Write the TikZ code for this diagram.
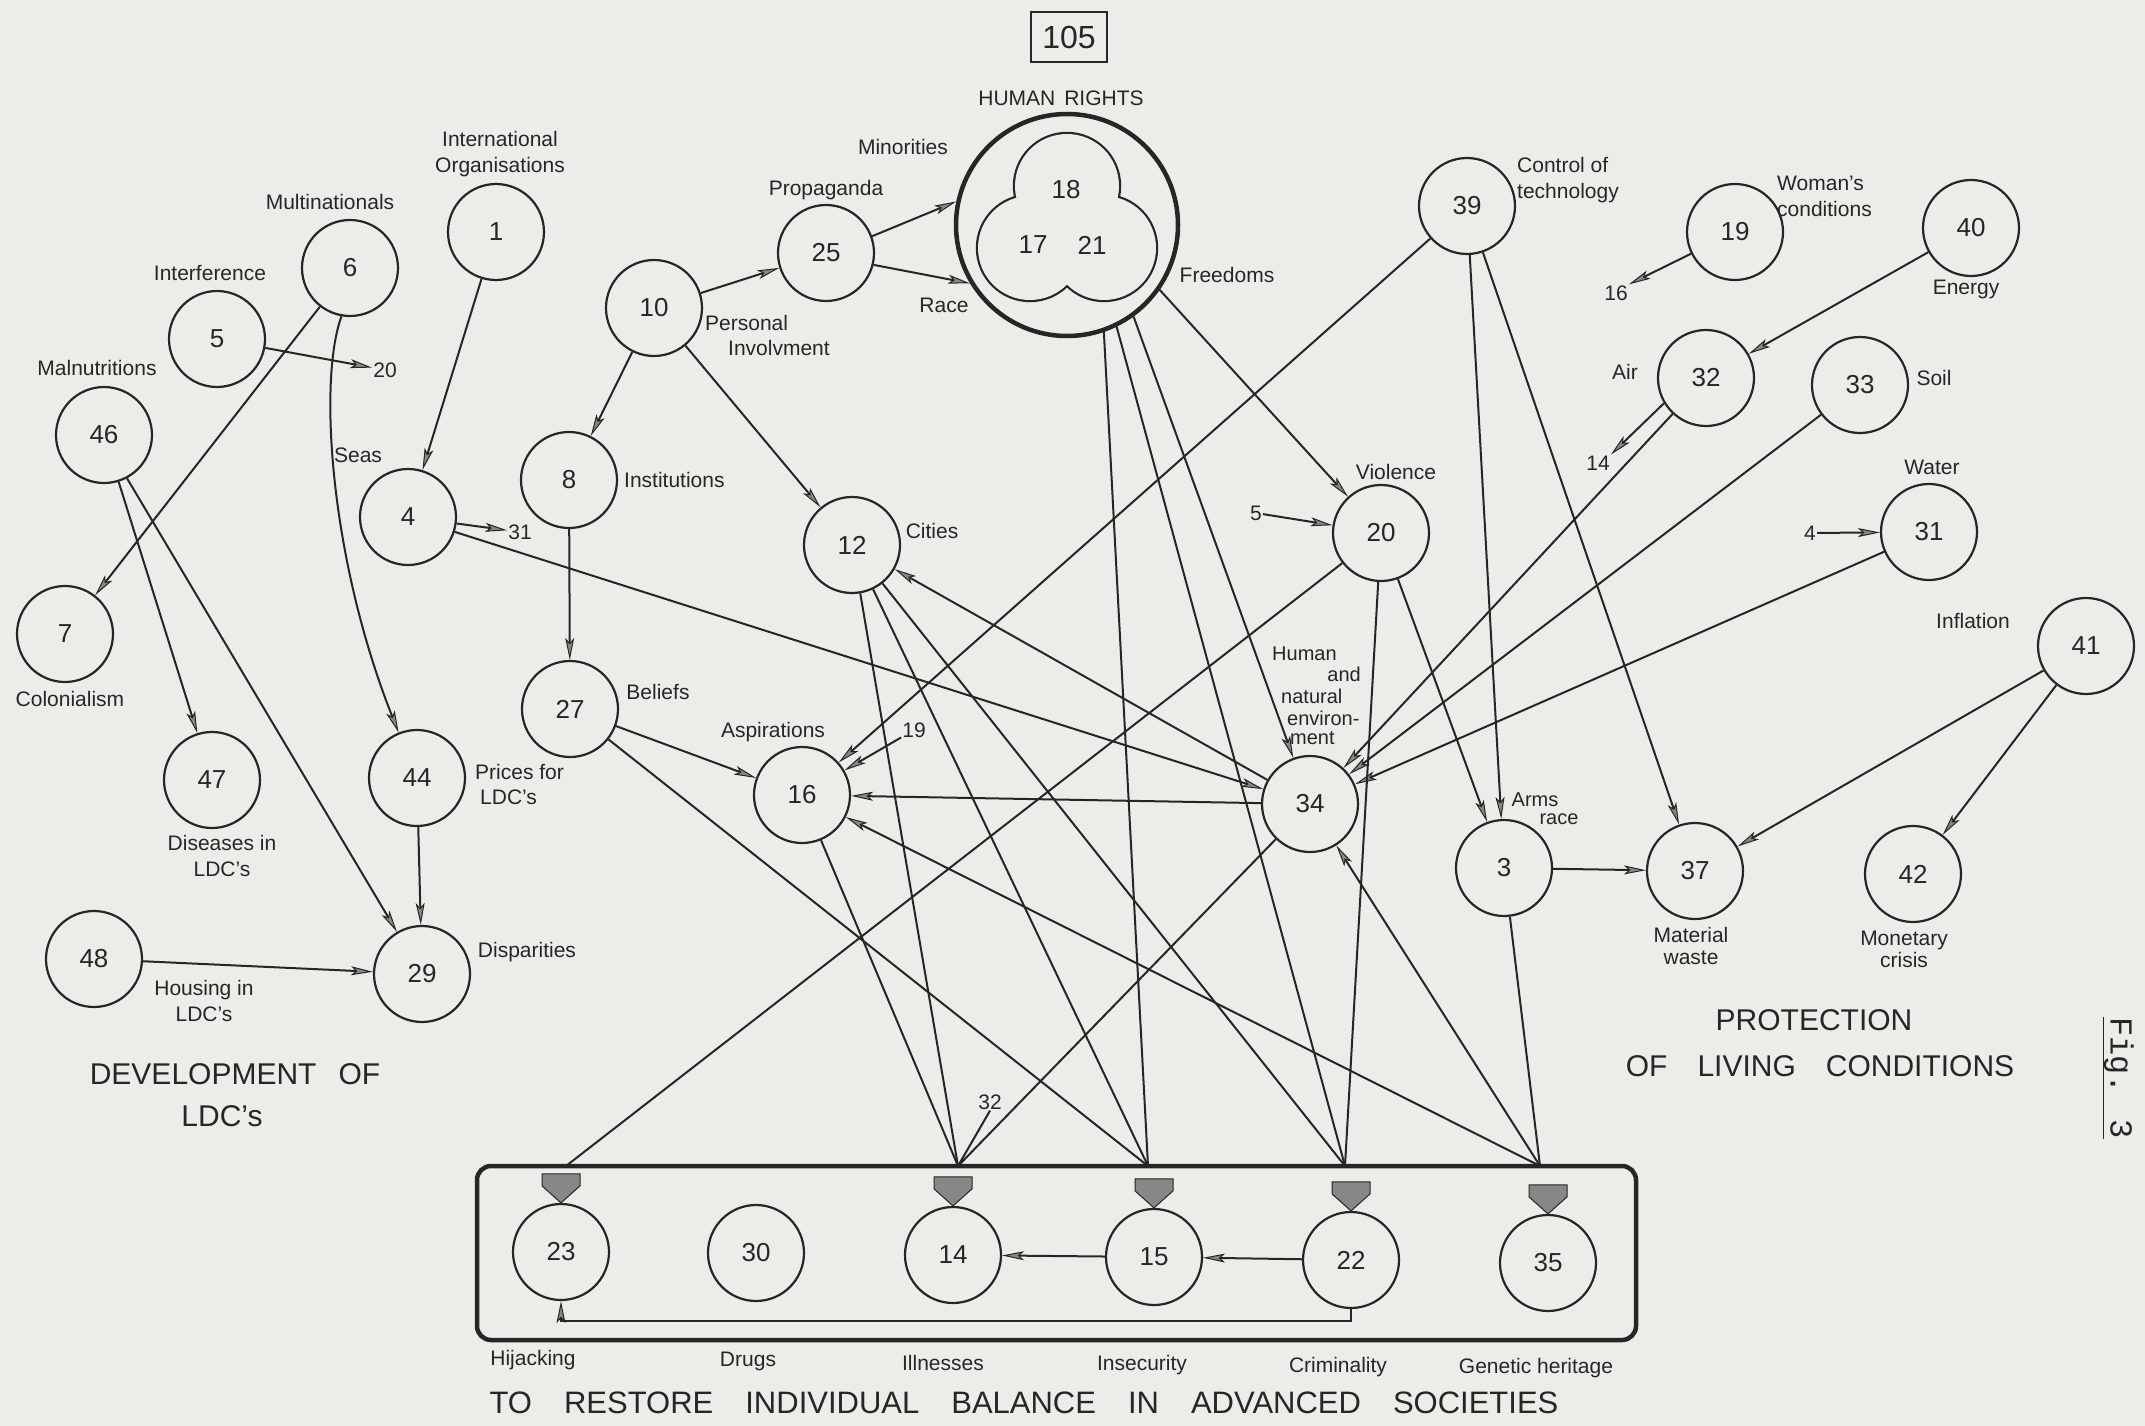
\documentclass[tikz,border=0pt]{standalone}
\usepackage{fontspec}
\setmainfont{Liberation Sans}
\newfontfamily\figfont{Liberation Mono}
\usetikzlibrary{arrows.meta,calc}
\definecolor{bg}{RGB}{236,237,233}
\definecolor{ink}{RGB}{38,38,38}
\definecolor{tipfill}{RGB}{135,135,135}
\newcommand{\wgap}{\hspace{30pt}}
\begin{document}
\begin{tikzpicture}[x=1pt,y=-1pt,
 nd/.style={circle,draw=ink,line width=2.2pt,minimum size=96pt,inner sep=0pt,text=ink,font=\fontsize{26}{26}\selectfont},
 lb/.style={font=\fontsize{21}{26}\selectfont,inner sep=1pt,align=center,text=ink},
 sl/.style={font=\fontsize{20}{21}\selectfont,inner sep=0pt,text=ink},
 ttl/.style={font=\fontsize{30}{44}\selectfont,align=center,text=ink,inner sep=0pt},
 ln/.style={draw=ink,line width=2pt},
 ar/.style={ln,-{Stealth[length=22pt,width=9pt,inset=5pt,fill=tipfill,line width=1pt]}},
 gtip/.style={draw=ink,line width=1pt,fill=tipfill}
]
\fill[bg] (0,0) rectangle (2145,1426);
\useasboundingbox (0,0) rectangle (2145,1426);

% ---------- page number ----------
\node[draw=ink,line width=2.2pt,minimum width=76pt,minimum height=50pt,inner sep=0pt,text=ink,font=\fontsize{32}{32}\selectfont] (pg) at (1069,37) {105};

% ---------- human rights ----------
\node[circle,draw=ink,line width=4.5pt,minimum size=222pt,inner sep=0pt] (hr) at (1067,225) {};
\foreach \p in {(1067,186),(1030,248),(1104,248)} \draw[ink,line width=4.4pt] \p circle[radius=52];
\foreach \p in {(1067,186),(1030,248),(1104,248)} \fill[bg] \p circle[radius=52];
\node[text=ink,font=\fontsize{26}{26}\selectfont] (h18) at (1066,190) {18};
\node[text=ink,font=\fontsize{26}{26}\selectfont] (h17) at (1033,245) {17};
\node[text=ink,font=\fontsize{26}{26}\selectfont] (h21) at (1092,245) {21};

% ---------- nodes ----------
\node[nd] (n1) at (496,232) {1};
\node[nd] (n6) at (350,268) {6};
\node[nd] (n5) at (217,339) {5};
\node[nd] (n46) at (104,435) {46};
\node[nd] (n4) at (408,517) {4};
\node[nd] (n8) at (569,480) {8};
\node[nd] (n10) at (654,308) {10};
\node[nd] (n25) at (826,253) {25};
\node[nd] (n7) at (65,634) {7};
\node[nd] (n47) at (212,780) {47};
\node[nd] (n44) at (417,778) {44};
\node[nd] (n27) at (570,709) {27};
\node[nd] (n29) at (422,974) {29};
\node[nd] (n48) at (94,959) {48};
\node[nd] (n12) at (852,545) {12};
\node[nd] (n16) at (802,795) {16};
\node[nd] (n39) at (1467,206) {39};
\node[nd] (n19) at (1735,232) {19};
\node[nd] (n40) at (1971,228) {40};
\node[nd] (n32) at (1706,378) {32};
\node[nd] (n33) at (1860,385) {33};
\node[nd] (n20) at (1381,533) {20};
\node[nd] (n31) at (1929,532) {31};
\node[nd] (n41) at (2086,646) {41};
\node[nd] (n34) at (1310,804) {34};
\node[nd] (n3) at (1504,868) {3};
\node[nd] (n37) at (1695,871) {37};
\node[nd] (n42) at (1913,874) {42};

% ---------- bottom box ----------
\draw[ink,line width=4.5pt,rounded corners=14pt] (477,1166) rectangle (1636,1340);
\node[nd] (n23) at (561,1252) {23};
\node[nd] (n30) at (756,1253) {30};
\node[nd] (n14) at (953,1255) {14};
\node[nd] (n15) at (1154,1257) {15};
\node[nd] (n22) at (1351,1260) {22};
\node[nd] (n35) at (1548,1263) {35};
\coordinate (p23) at (566,1166);
\coordinate (p14) at (958,1166);
\coordinate (p15) at (1148,1166);
\coordinate (p22) at (1345,1166);
\coordinate (p35) at (1540,1166);
\foreach \n in {n23,n14,n15,n22,n35}
  \draw[gtip] (\n.north) -- ++(-19,-17) -- ++(0,-12) -- ++(38,0) -- ++(0,12) -- cycle;

% ---------- labels ----------
\node[lb] (lIO) at (500,154) {International\\Organisations};
\node[lb] (lMul) at (330,202) {Multinationals};
\node[lb] (lInt) at (210,273) {Interference};
\node[lb] (lMal) at (97,368) {Malnutritions};
\node[lb] (lSeas) at (358,455) {Seas};
\node[lb] (t20) at (385,370) {20};
\node[lb] (t31) at (520,532) {31};
\node[lb,anchor=west] (lInst) at (623,480) {Institutions};
\node[lb] (lProp) at (826,190) {Propaganda};
\node[lb] (lMin) at (903,147) {Minorities};
\node[lb,anchor=west] (lPer) at (704,323) {Personal};
\node[lb,anchor=west] (lInv) at (727,348) {Involvment};
\node[lb] (lRace) at (944,305) {Race};
\node[lb] (lHR) at (1061,98) {HUMAN\hspace{9pt}RIGHTS};
\node[lb] (lFree) at (1227,275) {Freedoms};
\node[lb,anchor=west,align=left] (lCot) at (1516,180) {Control of\\technology};
\node[lb,anchor=west,align=left] (lWom) at (1776,196) {Woman's\\conditions};
\node[lb] (lEn) at (1966,289) {Energy};
\node[lb] (t16) at (1616,293) {16};
\node[lb] (lAir) at (1625,372) {Air};
\node[lb] (lSoil) at (1934,378) {Soil};
\node[lb] (t14) at (1598,463) {14};
\node[lb] (lViol) at (1396,472) {Violence};
\node[lb] (t5) at (1256,513) {5};
\node[lb] (lWat) at (1932,467) {Water};
\node[lb] (t4) at (1810,533) {4};
\node[lb] (lInf) at (1973,621) {Inflation};
\node[lb] (lCit) at (932,531) {Cities};
\node[lb] (lCol) at (70,699) {Colonialism};
\node[lb] (lBel) at (658,692) {Beliefs};
\node[lb] (lAsp) at (773,732) {Aspirations};
\node[lb] (t19) at (914,730) {19};
\node[sl,anchor=west] (lHu1) at (1272,654) {Human};
\node[sl,anchor=east] (lHu2) at (1361,674) {and};
\node[sl,anchor=west] (lHu3) at (1281,696) {natural};
\node[sl,anchor=west] (lHu4) at (1287,718) {environ-};
\node[sl,anchor=west] (lHu5) at (1290,738) {ment};
\node[sl] (lArm) at (1535,800) {Arms};
\node[sl] (lArm2) at (1559,819) {race};
\node[lb,anchor=west] (lPri1) at (474,772) {Prices for};
\node[lb,anchor=west] (lPri2) at (479,797) {LDC's};
\node[lb] (lDis) at (222,856) {Diseases in\\LDC's};
\node[lb] (lDisp) at (527,952) {Disparities};
\node[lb] (lHou) at (204,1001) {Housing in\\LDC's};
\node[lb,font=\fontsize{21}{22}\selectfont] (lMat) at (1691,946) {Material\\waste};
\node[lb,font=\fontsize{21}{22}\selectfont] (lMon) at (1904,949) {Monetary\\crisis};
\node[lb] (t32) at (990,1102) {32};
\node[lb] (lB1) at (533,1360) {Hijacking};
\node[lb] (lB2) at (748,1361) {Drugs};
\node[lb] (lB3) at (943,1363) {Illnesses};
\node[lb] (lB4) at (1142,1365) {Insecurity};
\node[lb] (lB5) at (1338,1367) {Criminality};
\node[lb] (lB6) at (1536,1368) {Genetic heritage};

\node[ttl] (tDev1) at (235,1074) {DEVELOPMENT\hspace{22pt}OF};
\node[ttl] (tDev2) at (222,1116) {LDC's};
\node[ttl] (tPro1) at (1814,1020) {PROTECTION};
\node[ttl] (tPro2) at (1820,1066) {OF\wgap LIVING\wgap CONDITIONS};
\node[ttl,font=\fontsize{31}{31}\selectfont] (tRes) at (1024,1403) {TO\hspace{32pt}RESTORE\hspace{32pt}INDIVIDUAL\hspace{32pt}BALANCE\hspace{32pt}IN\hspace{32pt}ADVANCED\hspace{32pt}SOCIETIES};
\node[rotate=-90,text=ink,font=\figfont\fontsize{32}{32}\selectfont,inner sep=0pt] (tFig) at (2118,1078) {\underline{Fig. 3}};

% ---------- connectors with arrows ----------
\draw[ar] (n1) -- (n4);
\draw[ar] (n6) -- (n7);
\draw[ar] (n6.-100) .. controls (318,380) and (330,560) .. (n44.112);
\draw[ar] (n5) -- (t20);
\draw[ar] (n46) -- (n47);
\draw[ar] (n46.-62) -- (n29);
\draw[ar] (n4) -- (t31);
\draw[ar] (n4) -- (n34);
\draw[ar] (n10) -- (n25);
\draw[ar] (n10) -- (n8);
\draw[ar] (n10) -- (n12);
\draw[ar] (n25.20) -- (hr.168);
\draw[ar] (n25.-14) -- (hr.211);
\draw[ar] (n8) -- (n27);
\draw[ar] (n27) -- (n16);
\draw[ar] (n44) -- (n29);
\draw[ar] (n48) -- (n29);
\draw[ar] (hr.-35) -- (n20);
\draw[ar] (hr.-54) -- (n34);
\draw[ar] (n39) -- (n16);
\draw[ar] (n39) -- (n3);
\draw[ar] (n39) -- (n37);
\draw[ar] (n19) -- (t16.north east);
\draw[ar] (n40) -- (n32);
\draw[ar] (n32.-149) -- (t14.north east);
\draw[ar] (n32) -- (n34);
\draw[ar] (n33) -- (n34);
\draw[ar] (n31) -- (n34);
\draw[ar] (t5) -- (n20);
\draw[ar] (t4) -- (n31);
\draw[ar] (n41) -- (n37);
\draw[ar] (n41) -- (n42);
\draw[ar] (n3) -- (n37);
\draw[ar] (n20) -- (n3);
\draw[ar] (n34) -- (n16);
\draw[ar] (n34) -- (n12);
\draw[ar] (p35) -- (n16);
\draw[ar] (p35) -- (n34);
\draw[ar] (t19) -- (n16);
\draw[ar] (n22) -- (n15);
\draw[ar] (n15) -- (n14);
\draw[ar] (n22.south) -- ++(0,12) -| (n23.south);

% ---------- connectors into the box ----------
\draw[ln] (n27) -- (p15);
\draw[ln] (n12) -- (p14);
\draw[ln] (n12) -- (p15);
\draw[ln] (n12) -- (p22);
\draw[ln] (n16) -- (p14);
\draw[ln] (hr.-71) -- (p15);
\draw[ln] (hr.-64) -- (p22);
\draw[ln] (n20) -- (p23);
\draw[ln] (n20) -- (p22);
\draw[ln] (n34) -- (p14);
\draw[ln] (n3) -- (p35);
\draw[ln] (t32.south) -- (p14);
\end{tikzpicture}
\end{document}
